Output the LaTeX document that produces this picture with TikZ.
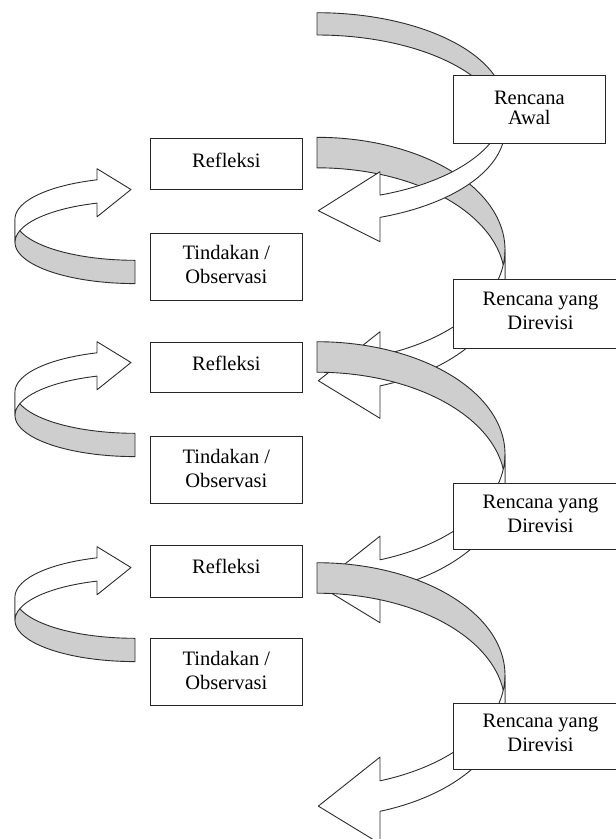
\documentclass[tikz,border=0pt]{standalone}
\usepackage{fontspec}
\setmainfont{Liberation Serif}
\definecolor{lc}{RGB}{45,45,45}
\definecolor{bandgray}{RGB}{206,206,206}
\newcommand{\hstr}[1]{\rule{0pt}{#1pt}}
\newcommand{\dstr}[1]{\rule[-#1pt]{0pt}{#1pt}}
% curved left arrow: #1 top, #2 band thickness, #3 vertical radius, #4 head top, #5 tip, #6 head bottom (offsets from top)
\newcommand{\rcurve}[6]{%
  \pgfmathsetmacro\cO{#1+#3}%
  \pgfmathsetmacro\cI{#1+#2+#3}%
  \filldraw[shapeline, fill=bandgray] (317,#1)
    -- plot[domain=-90:0, samples=60, variable=\t] ({317+188*cos(\t)},{\cO+#3*sin(\t)})
    -- plot[domain=0:-90, samples=60, variable=\t] ({317+188*cos(\t)},{\cI+#3*sin(\t)})
    -- cycle;
  \filldraw[shapeline, fill=white] (505,\cO)
    -- plot[domain=0:70.42, samples=60, variable=\t] ({317+188*cos(\t)},{\cO+#3*sin(\t)})
    -- (380,#1+#4) -- (318.3,#1+#5) -- (380,#1+#6)
    -- plot[domain=70.42:0, samples=60, variable=\t] ({317+188*cos(\t)},{\cI+#3*sin(\t)})
    -- cycle;
}
% curved right arrow: #1 centre of upper ellipse
\newcommand{\lcurve}[1]{%
  \pgfmathsetmacro\cA{#1}%
  \pgfmathsetmacro\cB{#1+23.3}%
  \filldraw[shapeline, fill=bandgray] (135,\cA+41.3)
    -- plot[domain=90:180, samples=50, variable=\t] ({135+120*cos(\t)},{\cA+41.3*sin(\t)})
    -- plot[domain=180:90, samples=50, variable=\t] ({135+120*cos(\t)},{\cB+41.3*sin(\t)})
    -- cycle;
  \filldraw[shapeline, fill=white] (15,\cA)
    -- plot[domain=180:251.54, samples=50, variable=\t] ({135+120*cos(\t)},{\cA+41.3*sin(\t)})
    -- (97,\cA-50.3) -- (131,\cA-29.5) -- (97,\cA-2.2)
    -- plot[domain=251.54:180, samples=50, variable=\t] ({135+120*cos(\t)},{\cB+41.3*sin(\t)})
    -- cycle;
}
\begin{document}
\begin{tikzpicture}[x=1pt,y=-1pt,
  shapeline/.style={draw=lc, line width=0.9pt, line join=round},
  boxnode/.style={draw=black!85, line width=1pt, fill=white, inner xsep=2pt, inner ysep=0pt,
    align=center, anchor=north west, font=\fontsize{20.5}{24}\selectfont},
  lbox/.style={boxnode, minimum width=151.7pt},
  rbox/.style={boxnode, minimum width=174.6pt}]
\useasboundingbox (0,0) rectangle (616,839);
\clip (0,0) rectangle (616,839);
\fill[white] (0,0) rectangle (616,839);

% left curved arrows
\lcurve{219}
\lcurve{392}
\lcurve{597}

% right curved arrows
\rcurve{137.3}{30.5}{112.3}{194.4}{243.4}{281}
\rcurve{12.7}{22.3}{93.9}{159}{198}{229}
\rcurve{341.7}{30.5}{112.3}{194.4}{243.4}{281}
\rcurve{562.7}{30.5}{112.3}{194.4}{243.4}{281}

% left column boxes
\node[lbox, minimum height=51pt] (rf1) at (150,138.3) {\hstr{28.4}Refleksi\dstr{22.6}};
\node[lbox, minimum height=67.3pt] (td1) at (150,232.7) {\hstr{26.6}Tindakan /\\Observasi\dstr{16.7}};
\node[lbox, minimum height=50pt] (rf2) at (150,341.7) {\hstr{28.4}Refleksi\dstr{21.6}};
\node[lbox, minimum height=67pt] (td2) at (150,436) {\hstr{26.6}Tindakan /\\Observasi\dstr{16.4}};
\node[lbox, minimum height=51.5pt] (rf3) at (150,545) {\hstr{28.4}Refleksi\dstr{23.1}};
\node[lbox, minimum height=67.3pt] (td3) at (150,638) {\hstr{26.6}Tindakan /\\Observasi\dstr{16.7}};

% right column boxes
\node[boxnode, minimum width=152.3pt, minimum height=68.3pt, font=\fontsize{20.5}{19.5}\selectfont] (ra) at (452.7,75) {\hstr{29}Rencana\\Awal\dstr{19.8}};
\node[rbox, minimum height=68pt] (rd1) at (452.7,279.3) {\hstr{26}Rencana yang\\Direvisi\dstr{18.3}};
\node[rbox, minimum height=66.3pt] (rd2) at (452.7,482.7) {\hstr{25.5}Rencana yang\\Direvisi\dstr{17.1}};
\node[rbox, minimum height=66.6pt] (rd3) at (452.7,702.7) {\hstr{24.6}Rencana yang\\Direvisi\dstr{18}};
\end{tikzpicture}
\end{document}
